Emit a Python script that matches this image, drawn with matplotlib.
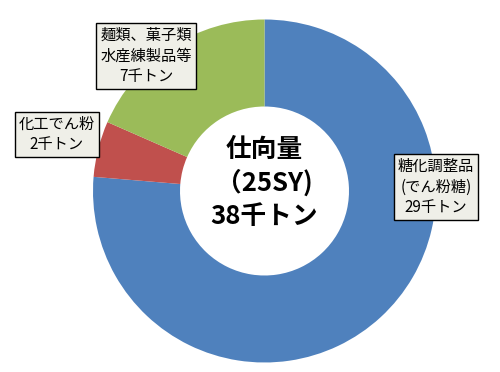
import matplotlib.pyplot as plt

plt.rcParams['font.family'] = ['Noto Sans CJK JP', 'DejaVu Sans']

categories = ['糖化調整品\n(でん粉糖)', '化工でん粉', '麺類、菓子類\n水産練製品等']
values = [29, 2, 7]
colors = ['#4F81BD', '#C0504D', '#9BBB59']
total = sum(values)

fig = plt.figure(figsize=(5, 3.72), dpi=100)
ax = fig.add_axes([0, 0, 1, 1])

# donut, clockwise from the top
ax.pie(values, colors=colors, startangle=90, counterclock=False,
       center=(264.5, 372 - 191), radius=171.5,
       wedgeprops=dict(width=87, linewidth=0))

# pie() resets the limits, so set pixel-like limits afterwards
ax.set_xlim(0, 500)
ax.set_ylim(0, 372)
ax.set_aspect('equal')
ax.axis('off')

# label boxes (pixel positions, y from top)
label_pos = [(436, 187), (57, 134.5), (146, 56)]
box = dict(boxstyle='square,pad=0.25', facecolor='#EFEFE8', edgecolor='black', linewidth=1)
for name, v, (x, y) in zip(categories, values, label_pos):
    ax.text(x, 372 - y, f'{name}\n{v}千トン', ha='center', va='center',
            fontsize=11, linespacing=1.3, bbox=box)

ax.text(264.5, 372 - 183, f'仕向量\n（25SY)\n{total}千トン', ha='center', va='center',
        fontsize=18.5, fontweight='bold', linespacing=1.3)

fig.savefig('out.png', dpi=100)
